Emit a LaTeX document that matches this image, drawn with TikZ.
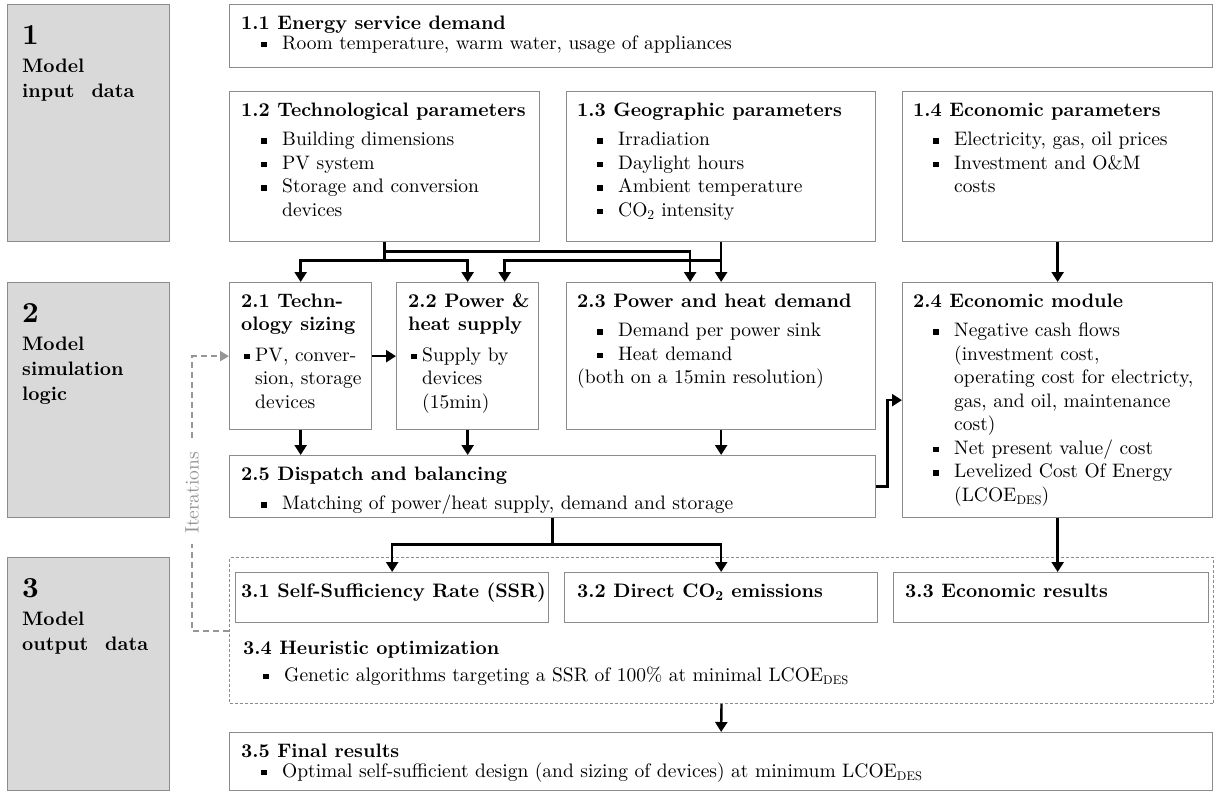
\documentclass[tikz,border=0pt]{standalone}
\usepackage{fontspec}
\setmainfont{lmroman10-regular.otf}[BoldFont=lmroman10-bold.otf]
\usetikzlibrary{arrows.meta,calc}

\definecolor{boxline}{RGB}{140,140,140}
\definecolor{labelfill}{RGB}{217,217,217}
\definecolor{itergray}{RGB}{150,150,150}

\newcommand{\bodyfont}{\fontsize{19.5}{23.5}\selectfont}
\newcommand{\labelfont}{\fontsize{19.5}{25}\selectfont\bfseries}
\newcommand{\st}{\rule{0pt}{15pt}}
\newcommand{\sqb}{\rule[1.8pt]{5.6pt}{5.6pt}}
% wide bullet item and its continuation line
\newcommand{\bi}[1]{\hspace*{20pt}\makebox[21pt][l]{\sqb}#1}
\newcommand{\bc}[1]{\hspace*{41pt}#1}
% narrow bullet item for the small boxes
\newcommand{\nbi}[1]{\hspace*{3pt}\makebox[11pt][l]{\sqb}#1}
\newcommand{\nbc}[1]{\hspace*{14pt}#1}
\newcommand{\des}{\raisebox{-3.5pt}{\fontsize{12.5}{12.5}\selectfont DES}}
\newcommand{\bignum}[1]{\rule{0pt}{22pt}{\fontsize{29}{29}\selectfont #1}}

\begin{document}
\begin{tikzpicture}[x=1pt,y=-1pt,
  box/.style={draw=boxline, line width=1.3pt, anchor=north west, inner sep=0pt},
  lblbox/.style={box, fill=labelfill},
  frame34/.style={draw=boxline, line width=1pt, dash pattern=on 3pt off 2pt, anchor=north west, inner sep=0pt},
  txt/.style={anchor=north west, inner sep=0pt, align=left, font=\bodyfont},
  lbl/.style={anchor=north west, inner sep=0pt, align=left, font=\labelfont},
  arr/.style={line width=2.4pt, -{Triangle[length=10pt,width=12pt]}},
  iter/.style={draw=itergray, line width=2pt, dash pattern=on 6pt off 4pt, -{Triangle[length=9pt,width=10pt]}},
  itertext/.style={rotate=90, fill=white, text=itergray, font=\bodyfont, inner xsep=10pt, inner ysep=2pt}
]
\useasboundingbox (0,0) rectangle (1216,792);

% section label boxes
\node[lblbox, minimum width=162pt, minimum height=237pt] (l1) at (7,4) {};
\node[lblbox, minimum width=162pt, minimum height=235pt] (l2) at (7,282) {};
\node[lblbox, minimum width=162pt, minimum height=233pt] (l3) at (7,557) {};
\node[lbl] (n1) at (22,22) {\bignum{1}\\[3pt]Model\\input\hspace{17pt}data};
\node[lbl] (n2) at (22,300) {\bignum{2}\\[3pt]Model\\simulation\\logic};
\node[lbl] (n3) at (22,575) {\bignum{3}\\[3pt]Model\\output\hspace{17pt}data};

% content boxes
\node[box, minimum width=983pt, minimum height=63pt] (b11) at (229,4) {};
\node[box, minimum width=310pt, minimum height=150pt] (b12) at (229,91) {};
\node[box, minimum width=309pt, minimum height=150pt] (b13) at (566,91) {};
\node[box, minimum width=310pt, minimum height=150pt] (b14) at (902,91) {};
\node[box, minimum width=142pt, minimum height=147pt] (b21) at (229,282) {};
\node[box, minimum width=142pt, minimum height=147pt] (b22) at (396,282) {};
\node[box, minimum width=309pt, minimum height=147pt] (b23) at (566,282) {};
\node[box, minimum width=310pt, minimum height=235pt] (b24) at (902,282) {};
\node[box, minimum width=646pt, minimum height=62pt] (b25) at (229,455) {};
\node[frame34, minimum width=984pt, minimum height=146pt] (f34) at (229,557) {};
\node[box, minimum width=313pt, minimum height=50pt] (b31) at (235,572) {};
\node[box, minimum width=313pt, minimum height=50pt] (b32) at (564,572) {};
\node[box, minimum width=315pt, minimum height=50pt] (b33) at (893,572) {};
\node[box, minimum width=983pt, minimum height=58pt] (b35) at (229,732) {};

% box texts
\node[txt] (t11) at (241,14) {\st\textbf{1.1 Energy service demand}\\[-3.5pt]
  \bi{Room temperature, warm water, usage of appliances}};
\node[txt] (t12) at (241,101) {\st\textbf{1.2 Technological parameters}\\[6pt]
  \bi{Building dimensions}\\\bi{PV system}\\\bi{Storage and conversion}\\\bc{devices}};
\node[txt] (t13) at (577,101) {\st\textbf{1.3 Geographic parameters}\\[6pt]
  \bi{Irradiation}\\\bi{Daylight hours}\\\bi{Ambient temperature}\\\bi{CO\textsubscript{2} intensity}};
\node[txt] (t14) at (913,101) {\st\textbf{1.4 Economic parameters}\\[6pt]
  \bi{Electricity, gas, oil prices}\\\bi{Investment and O\&M}\\\bc{costs}};
\node[txt] (t21) at (241,292) {\st\textbf{2.1 Techn-}\\\textbf{ology sizing}\\[7pt]
  \nbi{PV, conver-}\\\nbc{sion, storage}\\\nbc{devices}};
\node[txt] (t22) at (408,292) {\st\textbf{2.2 Power \&}\\\textbf{heat supply}\\[7pt]
  \nbi{Supply by}\\\nbc{devices}\\\nbc{(15min)}};
\node[txt] (t23) at (577,292) {\st\textbf{2.3 Power and heat demand}\\[6pt]
  \bi{Demand per power sink}\\\bi{Heat demand}\\(both on a 15min resolution)};
\node[txt] (t24) at (913,292) {\st\textbf{2.4 Economic module}\\[6pt]
  \bi{Negative cash flows}\\\bc{(investment cost,}\\\bc{operating cost for electricty,}\\
  \bc{gas, and oil, maintenance}\\\bc{cost)}\\\bi{Net present value/ cost}\\
  \bi{Levelized Cost Of Energy}\\\bc{(LCOE\des)}};
\node[txt] (t25) at (241,465) {\st\textbf{2.5 Dispatch and balancing}\\[6pt]
  \bi{Matching of power/heat supply, demand and storage}};
\node[txt] (t31) at (241,582) {\st\textbf{3.1 Self-Sufficiency Rate (SSR)}};
\node[txt] (t32) at (577,582) {\st\textbf{3.2 Direct CO\textsubscript{2} emissions}};
\node[txt] (t33) at (905,582) {\st\textbf{3.3 Economic results}};
\node[txt] (t34) at (243,639) {\st\textbf{3.4 Heuristic optimization}\\[3.5pt]
  \bi{Genetic algorithms targeting a SSR of 100\% at minimal LCOE\des}};
\node[txt] (t35) at (241,742) {\st\textbf{3.5 Final results}\\[-3.5pt]
  \bi{Optimal self-sufficient design (and sizing of devices) at minimum LCOE\des}};

% input data to simulation modules
\draw[arr] (b12.south) -- ++(0,18) -| (b21.north);
\draw[arr] ($(b12.south)+(0,18)$) -| (b22.north);
\draw[arr] (b12.south) -- ++(0,9) -| ($(b23.north)+(-31,0)$);
\draw[arr] (b13.south) -- (b23.north);
\draw[arr] ($(b13.south)+(0,18)$) -| ($(b22.north)+(37,0)$);
\draw[arr] (b14.south) -- (b24.north);

% simulation logic
\draw[arr] (b21.east) -- (b22.west);
\draw[arr] (b21.south) -- (b25.north -| b21.south);
\draw[arr] (b22.south) -- (b25.north -| b22.south);
\draw[arr] (b23.south) -- (b25.north -| b23.south);
\draw[arr] (b25.east) -- ++(11,0) |- (b24.west);

% outputs
\draw[arr] (b25.south) -- ++(0,26) -| (b31.north);
\draw[arr] ($(b25.south)+(0,26)$) -| (b32.north);
\draw[arr] (b24.south) -- (b33.north -| b24.south);
\draw[arr] (f34.south) -- (b35.north);

% optimisation loop
\draw[iter] (f34.west) -- ++(-37,0) |- (b21.west);
\node[itertext] (itl) at (192,493) {Iterations};
\end{tikzpicture}
\end{document}
